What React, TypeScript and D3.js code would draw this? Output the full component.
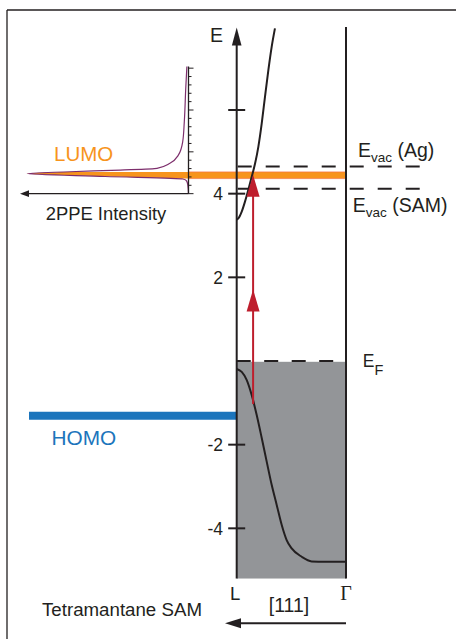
import * as d3 from 'd3'

// energies in eV relative to E_F, k along L -> Gamma (0..1)
const yTicks = [6, 4, 2, -2, -4]
const yTickLabels = ['', '4', '2', '-2', '-4']

const upperK = [0, 0.015, 0.046, 0.076, 0.106, 0.137, 0.168, 0.198, 0.229, 0.259, 0.29, 0.32, 0.35]
const upperE = [3.38, 3.41, 3.57, 3.81, 4.09, 4.4, 4.72, 5.12, 5.68, 6.32, 6.96, 7.51, 7.95]

const lowerK = [0, 0.046, 0.091, 0.137, 0.183, 0.229, 0.274, 0.32, 0.366, 0.412, 0.457, 0.503, 0.595, 0.686, 0.808, 1]
const lowerE = [-0.19, -0.26, -0.45, -0.81, -1.29, -1.84, -2.4, -2.96, -3.44, -3.92, -4.28, -4.48, -4.68, -4.79, -4.8, -4.8]

// 2PPE spectrum (energy, normalised intensity)
const specE = [7.04, 6.52, 5.72, 5.24, 4.92, 4.725, 4.606, 4.565, 4.524, 4.48, 4.41, 4.35, 4.3, 4.2, 4.0]
const specI = [0.01, 0.017, 0.026, 0.036, 0.063, 0.115, 0.195, 0.424, 0.734, 1.0, 0.517, 0.034, 0.011, 0.004, 0]

const eFermi = 0
const eVacAg = 4.65
const eVacSam = 4.12
const lumoTop = 4.52
const lumoBottom = 4.36
const homoE = -1.31
const startE = -1.03
const photonE = 2.74
const photonK = 0.15

const black = '#231f20'
const orange = '#f7941d'
const blue = '#1c75bc'
const red = '#be1e2d'
const grey = '#939598'
const purple = '#7d2e6c'
const sans = '"Liberation Sans", Arial, Helvetica, sans-serif'

const yE = d3.scaleLinear().domain([0, 6]).range([361, 110])
const xK = d3.scaleLinear().domain([0, 1]).range([236.7, 346])
const xI = d3.scaleLinear().domain([0, 1]).range([188.5, 27])

const App = () => {
  const bandLine = d3
    .line<[number, number]>()
    .x((d) => xK(d[0]))
    .y((d) => yE(d[1]))
    .curve(d3.curveMonotoneX)

  const upper = bandLine(upperK.map((k, i) => [k, upperE[i]]))
  const lower = bandLine(lowerK.map((k, i) => [k, lowerE[i]]))

  const specPts: [number, number][] = specE.map((e, i) => [specI[i], e])
  const specLine = d3
    .line<[number, number]>()
    .x((d) => xI(d[0]))
    .y((d) => yE(d[1]))
    .curve(d3.curveMonotoneY)
  const specArea = d3
    .area<[number, number]>()
    .y((d) => yE(d[1]))
    .x0(xI(0))
    .x1((d) => xI(d[0]))
    .curve(d3.curveMonotoneY)

  const axisBottom = yE(-5.2)
  const axisTop = yE(7.97)
  const xL = xK(0)
  const xG = xK(1)
  const xPh = xK(photonK)
  const insetTicks = d3.range(4, 7.01, 0.2)

  const arrowHead = (tipE: number) => {
    const t = yE(tipE)
    return `${xPh},${t} ${xPh - 6.5},${t + 22} ${xPh + 6.5},${t + 22}`
  }

  return (
    <svg
      width={456}
      height={639}
      style={{ position: 'absolute', left: 0, top: 0, background: '#fff' }}
      fontFamily={sans}
    >
      {/* frame */}
      <line x1={7} x2={456} y1={10} y2={10} stroke={black} strokeWidth={1.3} />
      <line x1={7} x2={7} y1={10} y2={639} stroke={black} strokeWidth={1.3} />

      {/* occupied states */}
      <rect x={xL} y={yE(eFermi) + 0.8} width={xG - xL} height={axisBottom - yE(eFermi) - 0.8} fill={grey} />

      {/* LUMO band + spectrum */}
      <clipPath id="lumo-clip">
        <rect x={0} y={yE(lumoTop)} width={200} height={yE(lumoBottom) - yE(lumoTop)} />
      </clipPath>
      <path d={specArea(specPts) ?? ''} fill={orange} clipPath="url(#lumo-clip)" />
      <rect
        x={xI(0)}
        y={yE(lumoTop)}
        width={xG - xI(0)}
        height={yE(lumoBottom) - yE(lumoTop)}
        fill={orange}
        stroke="#f26c4f"
        strokeOpacity={0.6}
        strokeWidth={1}
      />
      <path d={specLine(specPts) ?? ''} fill="none" stroke={purple} strokeWidth={1.2} />

      {/* inset axes */}
      <line x1={xI(0)} x2={xI(0)} y1={yE(7.04)} y2={yE(4)} stroke={black} strokeWidth={1.3} />
      {insetTicks.map((e) => {
        const major = Math.abs(e - Math.round(e)) < 0.01
        return (
          <line
            key={e}
            x1={xI(0)}
            x2={xI(0) + (major ? 5 : 3)}
            y1={yE(e)}
            y2={yE(e)}
            stroke={black}
            strokeWidth={1}
          />
        )
      })}
      <line x1={xI(0)} x2={27} y1={yE(4)} y2={yE(4)} stroke={black} strokeWidth={1.3} />
      <polygon points={`20,${yE(4)} 29,${yE(4) - 3.3} 29,${yE(4) + 3.3}`} fill={black} />
      <text x={106} y={220} fontSize={18.4} textAnchor="middle" fill={black}>
        2PPE Intensity
      </text>
      <text x={54} y={161} fontSize={20.5} fill={orange}>
        LUMO
      </text>

      {/* HOMO */}
      <line x1={29} x2={xL} y1={yE(homoE)} y2={yE(homoE)} stroke={blue} strokeWidth={8} />
      <text x={51.5} y={445} fontSize={20.8} fill={blue}>
        HOMO
      </text>

      {/* dashed levels */}
      <line
        x1={237.7}
        x2={420}
        y1={yE(eVacAg)}
        y2={yE(eVacAg)}
        stroke={black}
        strokeWidth={2}
        strokeDasharray="14 14"
      />
      <line
        x1={237.7}
        x2={420}
        y1={yE(eVacSam)}
        y2={yE(eVacSam)}
        stroke={black}
        strokeWidth={2}
        strokeDasharray="14 14"
      />
      <line
        x1={xL}
        x2={334}
        y1={yE(eFermi)}
        y2={yE(eFermi)}
        stroke={black}
        strokeWidth={2}
        strokeDasharray="14 13.5"
      />

      {/* bands */}
      <path d={upper ?? ''} fill="none" stroke={black} strokeWidth={2} />
      <path d={lower ?? ''} fill="none" stroke={black} strokeWidth={2} />

      {/* photon arrows */}
      <line
        x1={xPh}
        x2={xPh}
        y1={yE(startE)}
        y2={yE(startE + 2 * photonE) + 10}
        stroke={red}
        strokeWidth={2}
      />
      <polygon points={arrowHead(startE + photonE)} fill={red} />
      <polygon points={arrowHead(startE + 2 * photonE)} fill={red} />

      {/* E axis */}
      <line x1={xL} x2={xL} y1={axisBottom} y2={axisTop + 12} stroke={black} strokeWidth={2} />
      <polygon
        points={`${xL},${axisTop} ${xL - 4.8},${axisTop + 18} ${xL + 4.8},${axisTop + 18}`}
        fill={black}
      />
      <line x1={xG} x2={xG} y1={axisBottom} y2={27} stroke={black} strokeWidth={2} />
      {yTicks.map((v, i) => (
        <g key={v}>
          <line x1={xL - 8.5} x2={xL + 8.5} y1={yE(v)} y2={yE(v)} stroke={black} strokeWidth={2} />
          <text x={223} y={yE(v) + 6.5} fontSize={17.5} textAnchor="end" fill={black}>
            {yTickLabels[i]}
          </text>
        </g>
      ))}
      <text x={210} y={41.7} fontSize={19.5} fill={black}>
        E
      </text>

      {/* level labels */}
      <text x={358} y={156.7} fontSize={19.5} fill={black}>
        <tspan>E</tspan>
        <tspan fontSize={13.5} dy={5}>
          vac
        </tspan>
        <tspan dy={-5}> (Ag)</tspan>
      </text>
      <text x={352.7} y={212.3} fontSize={19.5} fill={black}>
        <tspan>E</tspan>
        <tspan fontSize={13.5} dy={4.5}>
          vac
        </tspan>
        <tspan dy={-4.5}> (SAM)</tspan>
      </text>
      <text x={362.7} y={367.3} fontSize={17.5} fill={black}>
        <tspan>E</tspan>
        <tspan fontSize={14.5} dy={7.7}>
          F
        </tspan>
      </text>

      {/* k axis */}
      <text x={xL - 1.5} y={600} fontSize={18.5} textAnchor="middle" fill={black}>
        L
      </text>
      <text
        x={xG}
        y={600}
        fontSize={20}
        textAnchor="middle"
        fill={black}
        fontFamily='"Liberation Serif", "Times New Roman", serif'
      >
        Γ
      </text>
      <text x={289} y={612} fontSize={19.5} textAnchor="middle" fill={black}>
        [111]
      </text>
      <line x1={xG} x2={238} y1={623.3} y2={623.3} stroke={black} strokeWidth={2} />
      <polygon points={`225,623.3 241,618.3 241,628.3`} fill={black} />
      <text x={42} y={616} fontSize={18.7} fill={black}>
        Tetramantane SAM
      </text>
    </svg>
  )
}

export default App
